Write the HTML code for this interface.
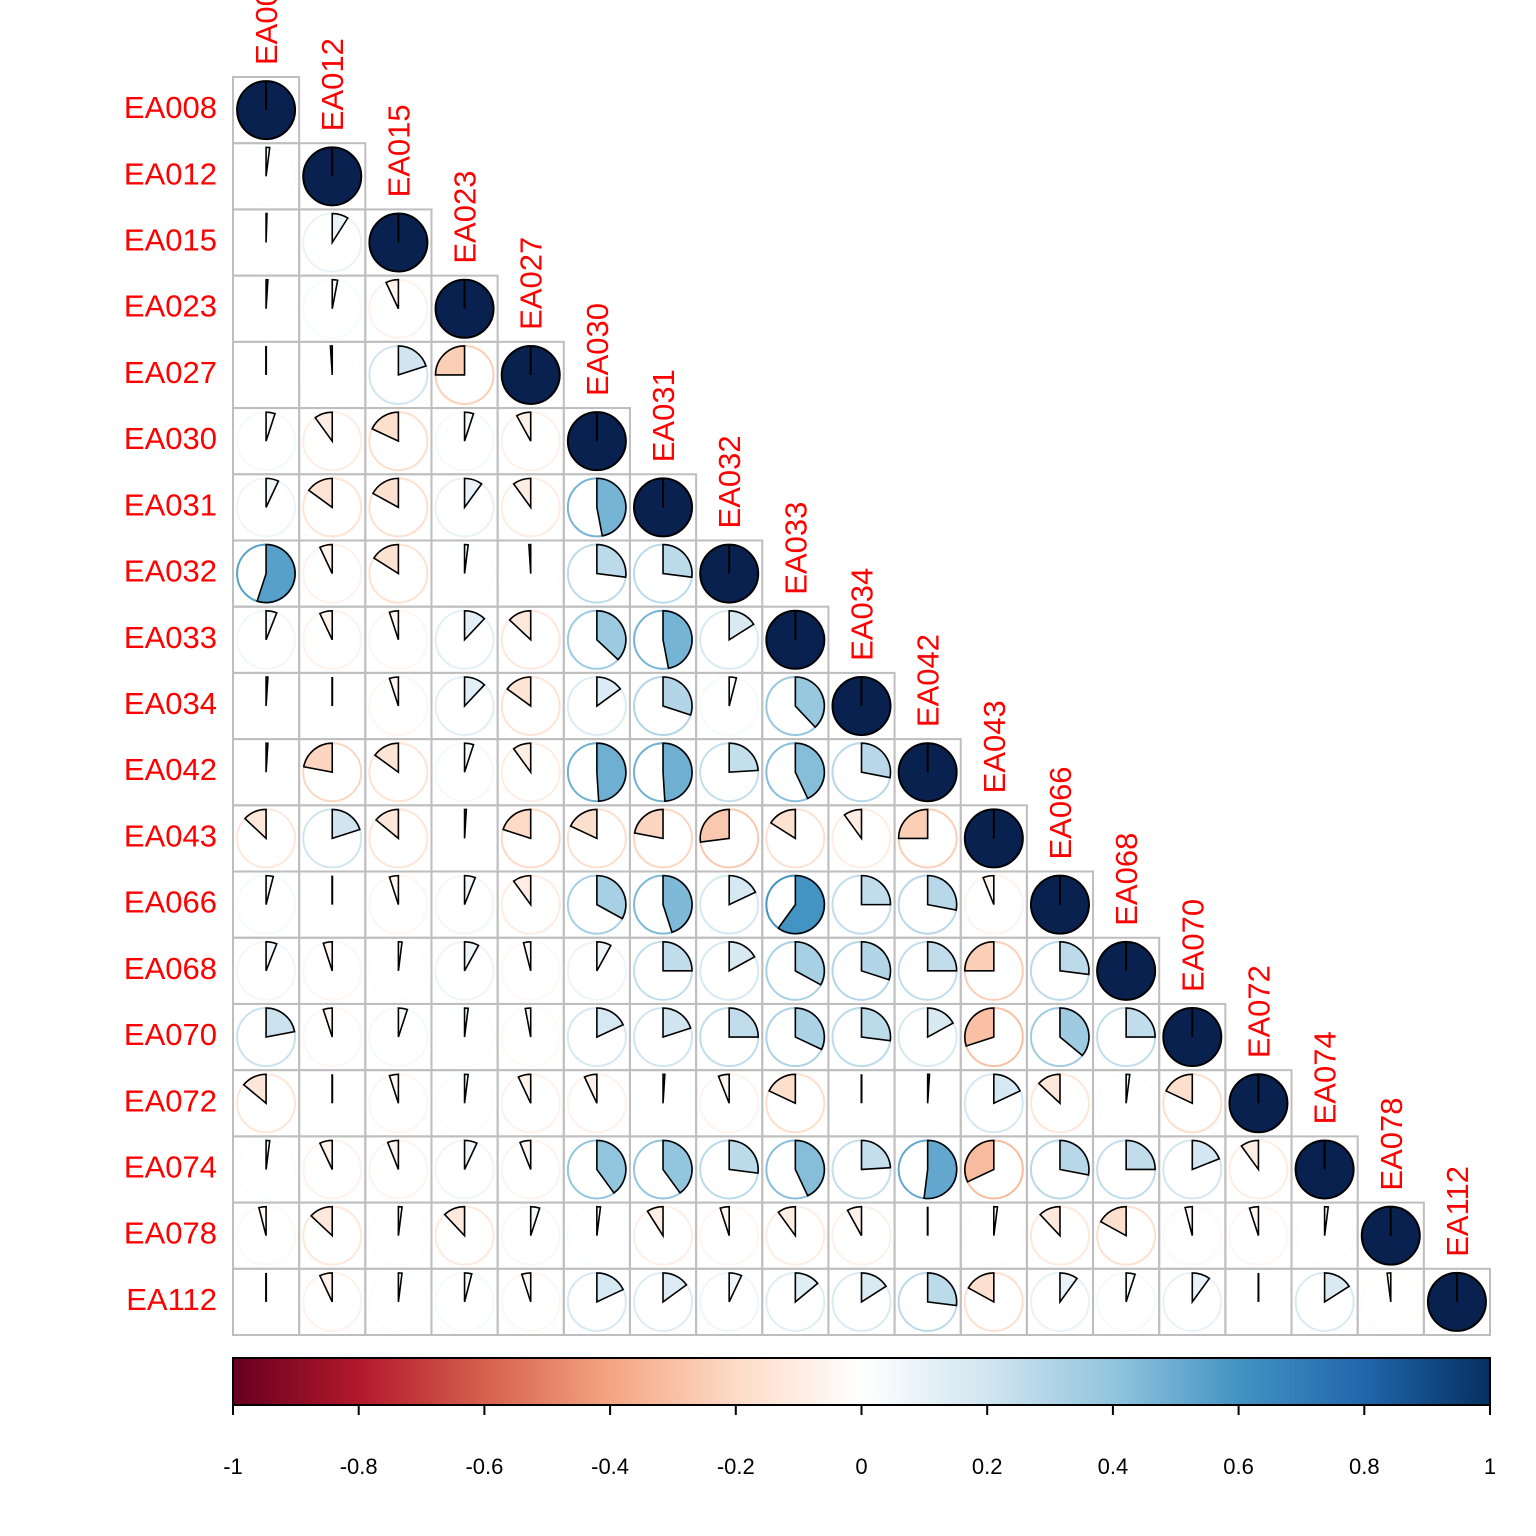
<!DOCTYPE html>
<html><head><meta charset="utf-8">
<style>html,body{margin:0;padding:0;background:#fff;}svg{display:block;}</style>
</head><body>
<svg id="chart" width="1536" height="1536" xmlns="http://www.w3.org/2000/svg" font-family="Liberation Sans, Arial, sans-serif"></svg>
<script>
const variables = ["EA008","EA012","EA015","EA023","EA027","EA030","EA031","EA032","EA033","EA034","EA042","EA043","EA066","EA068","EA070","EA072","EA074","EA078","EA112"];
const corrRows = [
 [],
 [0.02],
 [0.005,0.09],
 [0.01,0.03,-0.07],
 [0.0,-0.01,0.2,-0.25],
 [0.05,-0.1,-0.18,0.05,-0.08],
 [0.07,-0.15,-0.17,0.1,-0.1,0.47],
 [0.55,-0.07,-0.16,0.02,-0.01,0.27,0.27],
 [0.06,-0.07,-0.05,0.12,-0.13,0.37,0.47,0.16],
 [0.01,0.0,-0.05,0.12,-0.15,0.15,0.3,0.04,0.38],
 [0.01,-0.22,-0.15,0.05,-0.1,0.49,0.49,0.24,0.43,0.28],
 [-0.13,0.2,-0.14,0.01,-0.2,-0.18,-0.22,-0.27,-0.16,-0.1,-0.25],
 [0.04,0.0,-0.05,0.06,-0.1,0.33,0.45,0.18,0.6,0.25,0.28,-0.06],
 [0.06,-0.05,0.02,0.08,-0.04,0.08,0.25,0.17,0.33,0.3,0.25,-0.25,0.27],
 [0.22,-0.05,0.05,0.02,-0.03,0.18,0.2,0.25,0.32,0.27,0.17,-0.3,0.36,0.25],
 [-0.14,0.0,-0.05,0.02,-0.07,-0.07,0.01,-0.06,-0.18,0.0,0.01,0.18,-0.13,0.02,-0.18],
 [0.02,-0.07,-0.06,0.07,-0.06,0.4,0.4,0.27,0.43,0.24,0.52,-0.32,0.28,0.25,0.19,-0.1],
 [-0.04,-0.13,0.02,-0.12,0.05,0.02,-0.09,-0.05,-0.1,-0.08,0.0,0.02,-0.12,-0.17,-0.04,-0.05,0.02],
 [0.0,-0.07,0.02,0.04,-0.05,0.18,0.15,0.07,0.14,0.16,0.27,-0.17,0.1,0.05,0.1,0.0,0.16,-0.02]
];
const tickLabels = ["-1","-0.8","-0.6","-0.4","-0.2","0","0.2","0.4","0.6","0.8","1"];
const tickValues = [-1,-0.8,-0.6,-0.4,-0.2,0,0.2,0.4,0.6,0.8,1];

const NS="http://www.w3.org/2000/svg";
const svg=document.getElementById('chart');
const X0=233, Y0=77, X1=1490, Y1=1335, N=variables.length;
const cw=(X1-X0)/N, ch=(Y1-Y0)/N, R=29;
const stops=["#67001F","#B2182B","#D6604D","#F4A582","#FDDBC7","#FFFFFF","#D1E5F0","#92C5DE","#4393C3","#2166AC","#053061"];
function hex(h){return [1,3,5].map(i=>parseInt(h.substr(i,2),16));}
function color(v){
  const t=(v+1)/2*(stops.length-1);
  const i=Math.min(stops.length-2,Math.max(0,Math.floor(t))); const f=t-i;
  const a=hex(stops[i]), b=hex(stops[i+1]);
  return "rgb("+a.map((x,k)=>Math.round(x+(b[k]-x)*f)).join(",")+")";
}
function el(tag,attrs,parent){const e=document.createElementNS(NS,tag);for(const k in attrs)e.setAttribute(k,attrs[k]);(parent||svg).appendChild(e);return e;}
const xc=j=>X0+cw*(j+0.5), yc=i=>Y0+ch*(i+0.5);
const cbX=v=>X0+(v+1)/2*(X1-X0);

for(let i=0;i<N;i++)for(let j=0;j<=i;j++){
  const r=el('rect',{x:X0+cw*j,y:Y0+ch*i,width:cw,height:ch,fill:'none',stroke:'#BEBEBE','stroke-width':2});
  
  
}
for(let i=0;i<N;i++)for(let j=0;j<=i;j++){
  const v = i===j ? 1 : corrRows[i][j];
  const cx=xc(j), cy=yc(i), col=color(v);
  const g=el('g',{});
  
  
  if(i===j){
    el('circle',{cx:cx,cy:cy,r:R,fill:'#08214F',stroke:'#000','stroke-width':2},g);
    el('line',{x1:cx,y1:cy,x2:cx,y2:cy-R,stroke:'#000','stroke-width':2},g);
    continue;
  }
  el('circle',{cx:cx,cy:cy,r:R,fill:'none',stroke:col,'stroke-width':2},g);
  const ang=v*2*Math.PI;
  const ex=cx+R*Math.sin(ang), ey=cy-R*Math.cos(ang);
  if(Math.abs(v)<0.004){
    el('line',{x1:cx,y1:cy,x2:cx,y2:cy-R,stroke:'#000','stroke-width':2},g);
  } else {
    const large=Math.abs(v)>0.5?1:0, sweep=v>0?1:0;
    el('path',{d:`M${cx},${cy} L${cx},${cy-R} A${R},${R} 0 ${large} ${sweep} ${ex},${ey} Z`,fill:col,stroke:'#000','stroke-width':1.6,'stroke-linejoin':'miter'},g);
  }
}
variables.forEach((n,i)=>{
  const t=el('text',{x:217,y:yc(i)+8,'text-anchor':'end','font-size':31,fill:'#FF0000'});
  t.textContent=n;
  
  
});
variables.forEach((n,j)=>{
  const x=xc(j)+11, y=Y0+ch*j-12;
  const t=el('text',{x:x,y:y,transform:`rotate(-90 ${x} ${y})`,'font-size':31,fill:'#FF0000'});
  t.textContent=n;
  
  
});
const defs=el('defs',{});
const lg=el('linearGradient',{id:'cb',x1:0,x2:1,y1:0,y2:0},defs);
stops.forEach((s,k)=>el('stop',{offset:k/(stops.length-1),'stop-color':s},lg));
const cb=el('rect',{x:X0,y:1358,width:X1-X0,height:47,fill:'url(#cb)',stroke:'#000','stroke-width':2});


tickValues.forEach((v,k)=>{
  const x=cbX(v);
  const l=el('line',{x1:x,x2:x,y1:1405,y2:1415,stroke:'#000','stroke-width':2});
  
  
  const t=el('text',{x:x,y:1474,'text-anchor':'middle','font-size':22,fill:'#000'});
  t.textContent=tickLabels[k];
  
  
});
</script>
</body></html>
